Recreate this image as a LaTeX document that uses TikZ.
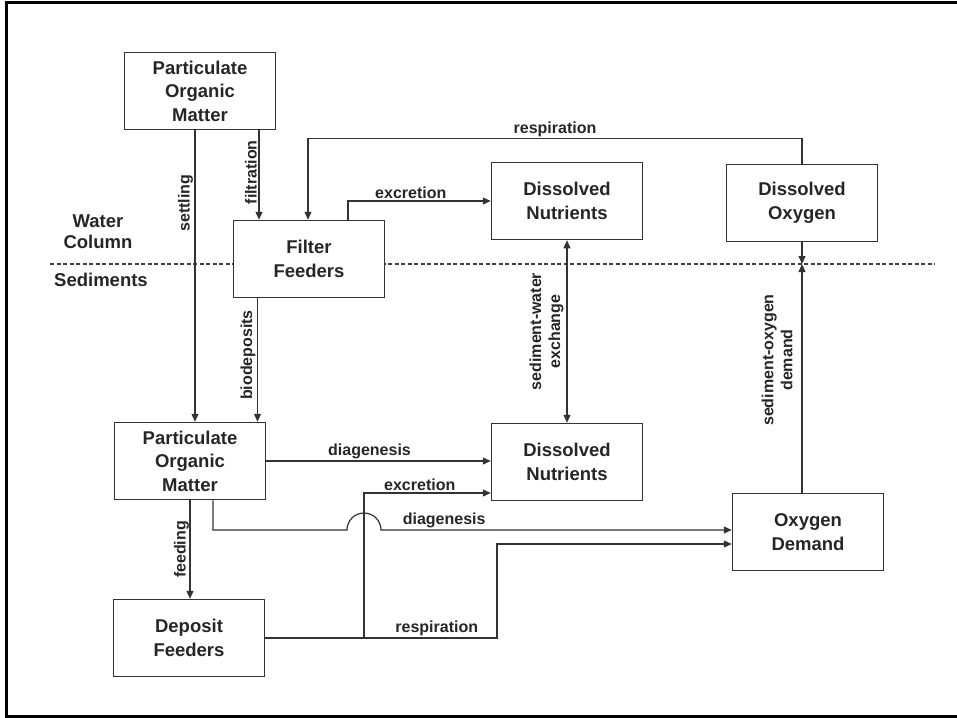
\documentclass[tikz,border=0pt]{standalone}
\usepackage{fontspec}
\setmainfont{Liberation Sans}
\usetikzlibrary{arrows.meta}
\begin{document}
\begin{tikzpicture}[x=1pt,y=-1pt,
  >={Triangle[length=8pt,width=7pt]},
  box/.style={draw=black!80, line width=1.5pt, fill=white, minimum width=151pt, minimum height=77pt,
    align=center, inner sep=0pt, font=\fontsize{18.5}{23.5}\selectfont\bfseries, text=black!85},
  region/.style={align=center, inner sep=0pt, font=\fontsize{18.5}{21}\selectfont\bfseries, text=black!85},
  lab/.style={font=\fontsize{16}{19}\selectfont\bfseries, text=black!85, inner sep=1.5pt},
  vlab/.style={lab, rotate=90, anchor=south, align=center},
  conn/.style={draw=black!80, line width=1.2pt},
  arr/.style={conn, ->},
]
\useasboundingbox (0,0) rectangle (957,717);
\draw[line width=3pt] (957,3) -- (6,3) -- (6,716) -- (957,716);

% water / sediment boundary
\coordinate (dashL) at (50,264);
\coordinate (dashR) at (935,264);
\draw[dash pattern=on 4pt off 2.5pt, line width=1.2pt, black!75] (dashL) -- (dashR);

\node[region] (wc) at (98,232) {Water\\Column};
\node[region] (sed) at (101,280) {Sediments};

% boxes
\node[box] (pom1) at (200,91) {Particulate\\Organic\\Matter};
\node[box] (ff) at (309,259) {Filter\\Feeders};
\node[box] (dn1) at (567,201) {Dissolved\\Nutrients};
\node[box] (do) at (802,203) {Dissolved\\Oxygen};
\node[box] (pom2) at (190,461) {Particulate\\Organic\\Matter};
\node[box] (dn2) at (567,462) {Dissolved\\Nutrients};
\node[box] (od) at (808,532) {Oxygen\\Demand};
\node[box] (df) at (189,638) {Deposit\\Feeders};

% connectors
\draw[arr] ([xshift=-5pt]pom1.south) -- ([xshift=5pt]pom2.north)
  node[vlab, pos=0.25] {settling};
\draw[arr] ([xshift=59pt]pom1.south) -- ([xshift=-50pt]ff.north)
  node[vlab, pos=0.47] {filtration};
\draw[arr] (do.north) -- ++(0,-25) -| ([xshift=-1pt]ff.north)
  node[lab, above, pos=0.25] {respiration};
\draw[arr] ([xshift=39pt]ff.north) |- (dn1.west)
  node[lab, above, pos=0.72] {excretion};
\draw[arr] ([xshift=-51.5pt]ff.south) -- ([xshift=67.5pt]pom2.north)
  node[vlab, pos=0.46] {biodeposits};
\draw[conn, <->] (dn1.south) -- (dn2.north)
  node[vlab, midway, inner ysep=3pt] {sediment-water\\exchange};

\coordinate (meet) at (do.south |- dashL);
\draw[arr] (do.south) -- (meet);
\draw[arr] (od.north -| do.south) -- (meet)
  node[vlab, pos=0.58, inner ysep=9pt] {sediment-oxygen\\demand};

\draw[arr] (pom2.east) -- (pom2.east -| dn2.west)
  node[lab, above, pos=0.46] {diagenesis};

\coordinate (exc) at (364,638);
\draw[arr] (exc) |- ([yshift=-31pt]dn2.west)
  node[lab, above, pos=0.72] {excretion};

\coordinate (rt) at (497,0);
\coordinate (odr) at ([yshift=-12pt]od.west);
\draw[arr] (df.east) -| (odr -| rt)
  node[lab, above, pos=0.37] {respiration} -- (odr);

\coordinate (odd) at ([yshift=2pt]od.west);
\coordinate (hop) at (exc |- odd);
\draw[arr] ([xshift=23pt]pom2.south) |- ([xshift=-17pt]hop)
  arc[start angle=180, end angle=0, radius=17pt] -- (odd)
  node[lab, above, pos=0.18] {diagenesis};

\draw[arr] (pom2.south) -- (pom2.south |- df.north)
  node[vlab, midway, inner ysep=0.5pt] {feeding};
\end{tikzpicture}
\end{document}
